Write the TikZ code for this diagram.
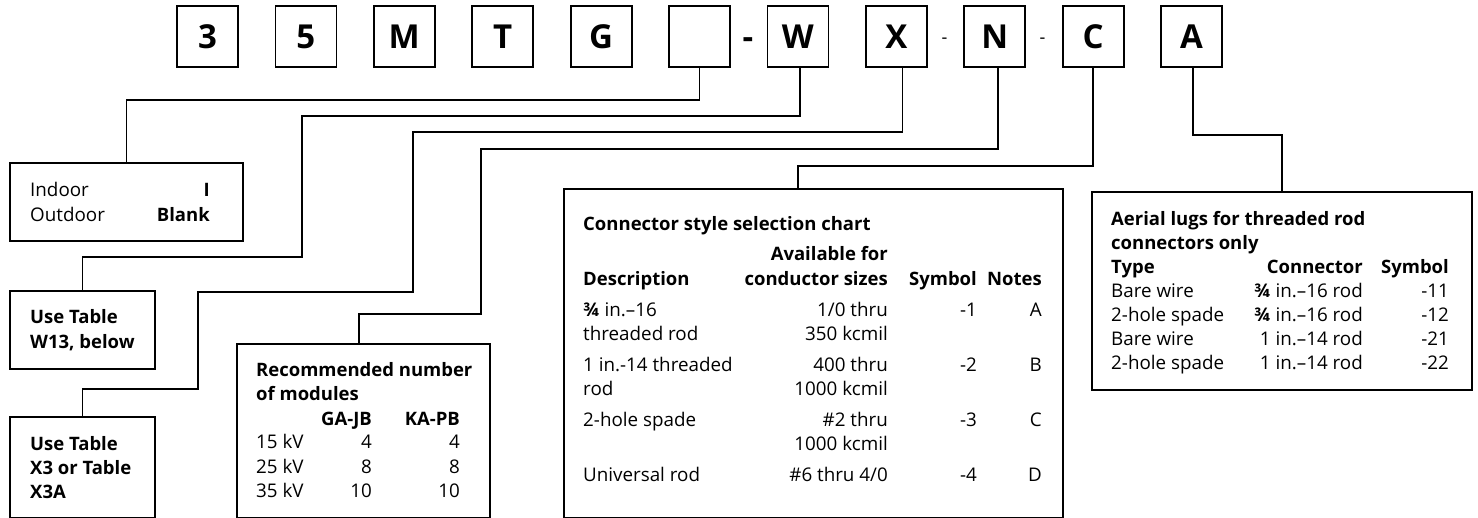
\documentclass[tikz,border=0pt]{standalone}
\usepackage{fontspec}
\setmainfont{Open Sans}
\begin{document}
\begin{tikzpicture}[x=1pt,y=-1pt,
  topbox/.style={draw, line width=1.8pt, minimum width=61pt, minimum height=61pt, inner sep=0pt, font=\fontsize{33}{33}\selectfont\bfseries},
  panel/.style={draw, line width=1.6pt, inner sep=0pt, anchor=north west},
  lnk/.style={line width=1.6pt},
  tx/.style={inner sep=0pt, anchor=base west, font=\fontsize{18.8}{24}\selectfont},
  txr/.style={tx, anchor=base east},
  bx/.style={tx, font=\fontsize{18.5}{24}\selectfont\bfseries},
  bxr/.style={bx, anchor=base east},
]
\useasboundingbox (0,0) rectangle (1478,518);

% top code boxes
\node[topbox] (b3) at (207.5,36.5) {3};
\node[topbox] (b5) at (305.9,36.5) {5};
\node[topbox] (bM) at (404.3,36.5) {M};
\node[topbox] (bT) at (502.7,36.5) {T};
\node[topbox] (bG) at (601.1,36.5) {G};
\node[topbox] (bB) at (699.5,36.5) {};
\node[topbox] (bW) at (797.9,36.5) {W};
\node[topbox] (bX) at (896.3,36.5) {X};
\node[topbox] (bN) at (994.7,36.5) {N};
\node[topbox] (bC) at (1093.1,36.5) {C};
\node[topbox] (bA) at (1191.5,36.5) {A};
\node[inner sep=0pt, anchor=base, font=\fontsize{33}{33}\selectfont\bfseries] (d1) at (748,49) {-};
\node[inner sep=0pt, anchor=base, font=\fontsize{18}{18}\selectfont] (d2) at (944.5,44) {-};
\node[inner sep=0pt, anchor=base, font=\fontsize{18}{18}\selectfont] (d3) at (1042.5,44) {-};

% panels
\node[panel, minimum width=233pt, minimum height=78pt] (indoor) at (9,162) {};
\node[panel, minimum width=145pt, minimum height=78pt] (w13) at (9,290) {};
\node[panel, minimum width=145pt, minimum height=101pt] (x3) at (9,416) {};
\node[panel, minimum width=253pt, minimum height=174pt] (mod) at (236,343) {};
\node[panel, minimum width=499pt, minimum height=329pt] (chart) at (563,188) {};
\node[panel, minimum width=380pt, minimum height=198pt] (aerial) at (1091,191) {};

% connectors
\draw[lnk] (bB.south) -- ++(0,32) -| (indoor.north);
\draw[lnk] ([xshift=2pt]bW.south) |- (302,116) -- (302,257) -| (w13.north);
\draw[lnk] ([xshift=6pt]bX.south) |- (413,132) -- (413,292) -| (198,389) -| (x3.north);
\draw[lnk] ([xshift=3pt]bN.south) |- (481,149) -- (481,314) -| (359,0 |- mod.north);
\draw[lnk] (bC.south) |- (798,166) -- (798,0 |- chart.north);
\draw[lnk] ([xshift=1.5pt]bA.south) -- ++(0,67) -| (aerial.north);

% indoor box text
\node[tx] (i1) at (30,196.5) {Indoor};
\node[tx] (i2) at (30,221.5) {Outdoor};
\node[bxr] (i3) at (210,196.5) {I};
\node[bxr] (i4) at (210,221.5) {Blank};

% W13 box
\node[bx] (w1) at (30,324) {Use Table};
\node[bx] (w2) at (30,348.5) {W13, below};

% X3 box
\node[bx] (x1) at (30,450.5) {Use Table};
\node[bx] (x2) at (30,474.5) {X3 or Table};
\node[bx] (x3t) at (30,498.5) {X3A};

% modules box
\node[bx] (m1) at (256,377) {Recommended number};
\node[bx] (m2) at (256,401) {of modules};
\node[bxr] (m3) at (372,425) {GA-JB};
\node[bxr] (m4) at (460,425) {KA-PB};
\node[tx] (m5) at (256,449) {15 kV};
\node[txr] (m6) at (372,449) {4};
\node[txr] (m7) at (460,449) {4};
\node[tx] (m8) at (256,473) {25 kV};
\node[txr] (m9) at (372,473) {8};
\node[txr] (m10) at (460,473) {8};
\node[tx] (m11) at (256,497) {35 kV};
\node[txr] (m12) at (372,497) {10};
\node[txr] (m13) at (460,497) {10};

% connector chart
\node[bx] (c1) at (583,230.5) {Connector style selection chart};
\node[bxr] (c2) at (888,261) {Available for};
\node[bx] (c3) at (583,285.5) {Description};
\node[bxr] (c4) at (888,285.5) {conductor sizes};
\node[bxr] (c5) at (977,285.5) {Symbol};
\node[bxr] (c6) at (1042,285.5) {Notes};
\node[tx] (r1a) at (583,316.5) {{\bfseries ¾} in.–16};
\node[tx] (r1b) at (583,340.5) {threaded rod};
\node[txr] (r1c) at (888,316.5) {1/0 thru};
\node[txr] (r1d) at (888,340.5) {350 kcmil};
\node[txr] (r1e) at (977,316.5) {-1};
\node[txr] (r1f) at (1042,316.5) {A};
\node[tx] (r2a) at (583,371.5) {1 in.-14 threaded};
\node[tx] (r2b) at (583,395.5) {rod};
\node[txr] (r2c) at (888,371.5) {400 thru};
\node[txr] (r2d) at (888,395.5) {1000 kcmil};
\node[txr] (r2e) at (977,371.5) {-2};
\node[txr] (r2f) at (1042,371.5) {B};
\node[tx] (r3a) at (583,426.5) {2-hole spade};
\node[txr] (r3c) at (888,426.5) {\#2 thru};
\node[txr] (r3d) at (888,450.5) {1000 kcmil};
\node[txr] (r3e) at (977,426.5) {-3};
\node[txr] (r3f) at (1042,426.5) {C};
\node[tx] (r4a) at (583,481.5) {Universal rod};
\node[txr] (r4c) at (888,481.5) {\#6 thru 4/0};
\node[txr] (r4e) at (977,481.5) {-4};
\node[txr] (r4f) at (1042,481.5) {D};

% aerial lugs
\node[bx] (a1) at (1111,225.5) {Aerial lugs for threaded rod};
\node[bx] (a2) at (1111,249.5) {connectors only};
\node[bx] (a3) at (1111,273.5) {Type};
\node[bxr] (a4) at (1363,273.5) {Connector};
\node[bxr] (a5) at (1449,273.5) {Symbol};
\node[tx] (a6) at (1111,297.5) {Bare wire};
\node[txr] (a7) at (1363,297.5) {{\bfseries ¾} in.–16 rod};
\node[txr] (a8) at (1449,297.5) {-11};
\node[tx] (a9) at (1111,321.5) {2-hole spade};
\node[txr] (a10) at (1363,321.5) {{\bfseries ¾} in.–16 rod};
\node[txr] (a11) at (1449,321.5) {-12};
\node[tx] (a12) at (1111,345.5) {Bare wire};
\node[txr] (a13) at (1363,345.5) {1 in.–14 rod};
\node[txr] (a14) at (1449,345.5) {-21};
\node[tx] (a15) at (1111,369.5) {2-hole spade};
\node[txr] (a16) at (1363,369.5) {1 in.–14 rod};
\node[txr] (a17) at (1449,369.5) {-22};
\end{tikzpicture}
\end{document}
